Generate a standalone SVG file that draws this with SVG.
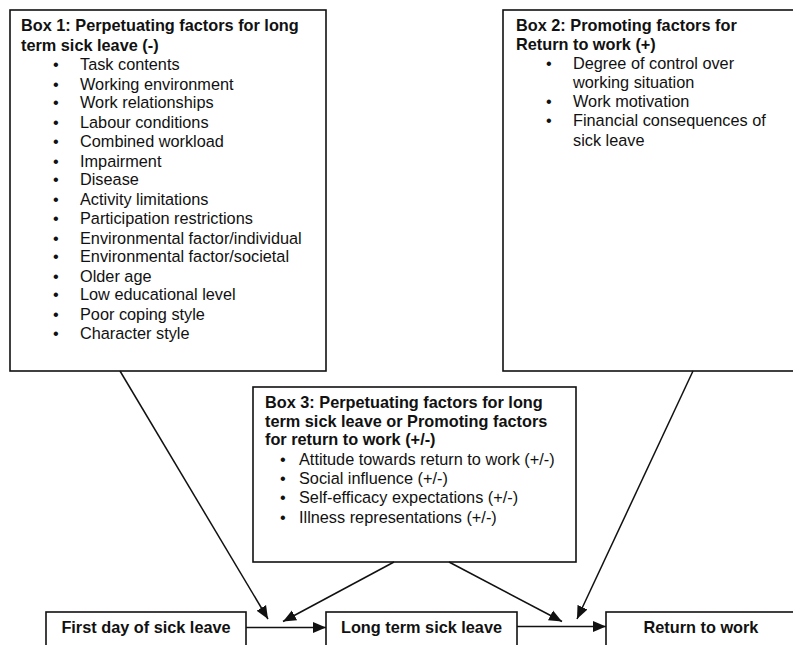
<svg xmlns="http://www.w3.org/2000/svg" width="793" height="645" viewBox="0 0 793 645">
<defs>
<style>
.box{fill:#fff;stroke:#111;stroke-width:1.6}
text{font-family:"Liberation Sans",Arial,sans-serif;font-size:16.3px;fill:#111}
.b{font-weight:bold}
.c{text-anchor:middle}
.conn line{stroke:#111;stroke-width:1.5}
</style>
<marker id="ah" markerUnits="userSpaceOnUse" markerWidth="13" markerHeight="12" viewBox="0 0 13 11" refX="13" refY="5.5" orient="auto">
<path d="M0,0 L13,5.5 L0,11 Z" fill="#111"/>
</marker>
</defs>
<rect width="793" height="645" fill="#fff"/>
<g id="box1">
<rect class="box" x="10" y="10" width="316" height="361"/>
<text class="b" x="21" y="31">Box 1: Perpetuating factors for long</text>
<text class="b" x="21" y="51">term sick leave (-)</text>
<text x="53" y="69.5">•</text><text x="80" y="69.5">Task contents</text>
<text x="53" y="89.5">•</text><text x="80" y="89.5">Working environment</text>
<text x="53" y="107.5">•</text><text x="80" y="107.5">Work relationships</text>
<text x="53" y="127.5">•</text><text x="80" y="127.5">Labour conditions</text>
<text x="53" y="146.5">•</text><text x="80" y="146.5">Combined workload</text>
<text x="53" y="166.5">•</text><text x="80" y="166.5">Impairment</text>
<text x="53" y="184.5">•</text><text x="80" y="184.5">Disease</text>
<text x="53" y="204.5">•</text><text x="80" y="204.5">Activity limitations</text>
<text x="53" y="223.5">•</text><text x="80" y="223.5">Participation restrictions</text>
<text x="53" y="243.5">•</text><text x="80" y="243.5">Environmental factor/individual</text>
<text x="53" y="261.5">•</text><text x="80" y="261.5">Environmental factor/societal</text>
<text x="53" y="281.5">•</text><text x="80" y="281.5">Older age</text>
<text x="53" y="300">•</text><text x="80" y="300">Low educational level</text>
<text x="53" y="320">•</text><text x="80" y="320">Poor coping style</text>
<text x="53" y="338.5">•</text><text x="80" y="338.5">Character style</text>
</g>
<g id="box2">
<rect class="box" x="503" y="10" width="300" height="361"/>
<text class="b" x="516" y="31">Box 2: Promoting factors for</text>
<text class="b" x="516" y="50">Return to work (+)</text>
<text x="546" y="69">•</text><text x="573" y="69">Degree of control over</text>
<text x="573" y="88">working situation</text>
<text x="546" y="107">•</text><text x="573" y="107">Work motivation</text>
<text x="546" y="126">•</text><text x="573" y="126">Financial consequences of</text>
<text x="573" y="146">sick leave</text>
</g>
<g id="box3">
<rect class="box" x="253" y="387" width="323" height="175"/>
<text class="b" x="265" y="408">Box 3: Perpetuating factors for long</text>
<text class="b" x="265" y="426.5">term sick leave or Promoting factors</text>
<text class="b" x="265" y="445">for return to work (+/-)</text>
<text x="280" y="465">•</text><text x="299" y="465">Attitude towards return to work (+/-)</text>
<text x="280" y="484">•</text><text x="299" y="484">Social influence (+/-)</text>
<text x="280" y="503">•</text><text x="299" y="503">Self-efficacy expectations (+/-)</text>
<text x="280" y="522.5">•</text><text x="299" y="522.5">Illness representations (+/-)</text>
</g>
<g id="first">
<rect class="box" x="46" y="612" width="200" height="50"/>
<text class="b c" x="146" y="633">First day of sick leave</text>
</g>
<g id="long">
<rect class="box" x="326" y="612" width="191" height="50"/>
<text class="b c" x="421.5" y="633">Long term sick leave</text>
</g>
<g id="return">
<rect class="box" x="606" y="612" width="200" height="50"/>
<text class="b c" x="701" y="633">Return to work</text>
</g>
<g id="connectors" class="conn">
<line x1="246" y1="627.5" x2="326" y2="627.5" marker-end="url(#ah)"/>
<line x1="517" y1="626.5" x2="606" y2="626.5" marker-end="url(#ah)"/>
<line x1="120" y1="371" x2="268" y2="619" marker-end="url(#ah)"/>
<line x1="394" y1="562" x2="283" y2="621.5" marker-end="url(#ah)"/>
<line x1="449" y1="562" x2="562" y2="621.5" marker-end="url(#ah)"/>
<line x1="693" y1="371" x2="577" y2="619" marker-end="url(#ah)"/>
</g>
</svg>
